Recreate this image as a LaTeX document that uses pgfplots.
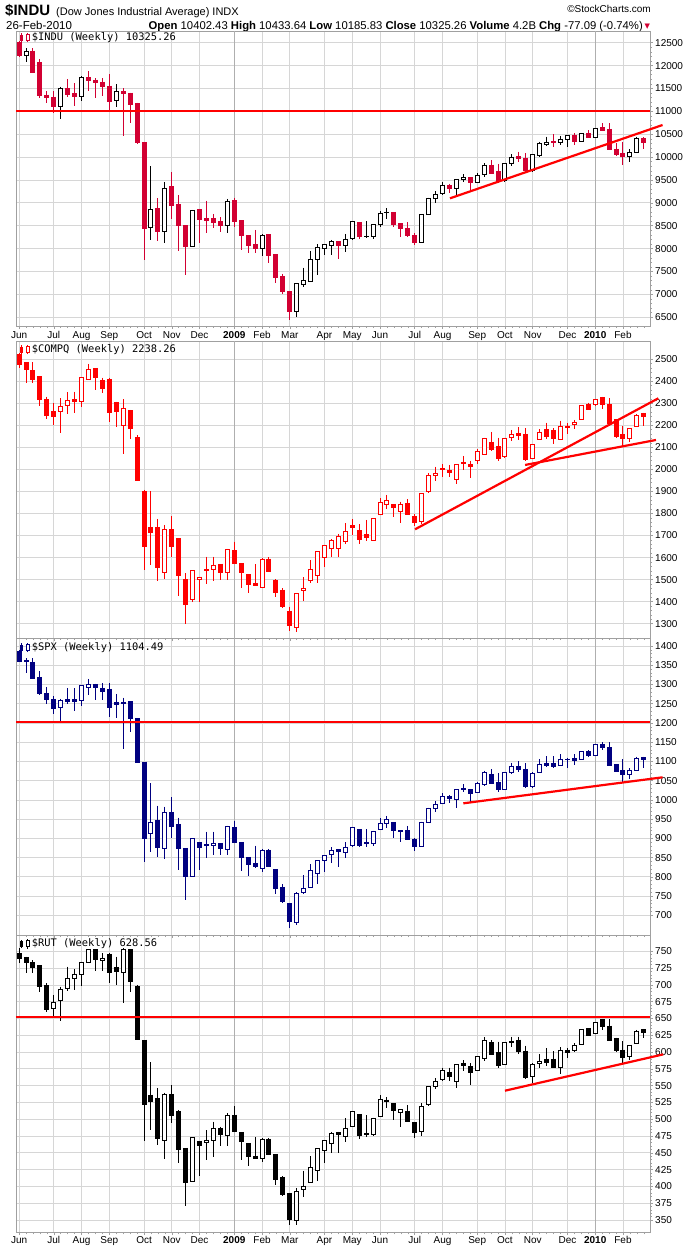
\documentclass[border=0pt]{standalone}
\usepackage{fontspec}
\setmainfont{Liberation Sans}
\newfontfamily\monofont{DejaVu Sans Mono}
\newfontfamily\dejavu{DejaVu Sans}
\usepackage{pgfplots}
\usepackage{pgfplotstable}
\pgfplotsset{compat=1.18}
\definecolor{indured}{RGB}{210,0,50}
\definecolor{navyc}{RGB}{0,0,128}
\definecolor{gridgray}{RGB}{214,214,214}
\definecolor{yeargray}{RGB}{175,175,175}
\definecolor{axisgray}{RGB}{160,160,160}

\pgfplotstableread{
x o h l c
0 12515 12530 12194 12223
1 12223 12376 12085 12310
2 12318 12376 11830 11845
3 12063 12136 11299 11342
4 11357 11444 11175 11299
5 11313 11444 10970 11102
6 11102 11540 10825 11503
7 11503 11700 11320 11364
8 11380 11613 11124 11320
9 11320 11772 11233 11743
10 11743 11881 11444 11670
11 11685 11721 11299 11627
12 11641 11721 11335 11539
13 11554 11816 11030 11211
14 11233 11597 11102 11437
15 11430 11503 10470 11393
16 11400 11408 10753 11146
17 11168 11190 10290 10316
18 10323 10330 7753 8430
19 8467 9806 8190 8852
20 8867 9100 8168 8372
21 8372 9457 8132 9318
22 9355 9675 8642 8940
23 8955 9173 7957 8503
24 8496 8500 7426 8045
25 8045 8850 8030 8838
26 8845 8850 8117 8627
27 8649 9049 8350 8612
28 8649 8760 8450 8569
29 8591 8685 8358 8503
30 8503 9086 8350 9035
31 9042 9115 8481 8583
32 8605 8605 7972 8285
33 8292 8292 7914 8059
34 8081 8409 7914 8001
35 8008 8321 7841 8292
36 8300 8300 7695 7848
37 7863 7863 7244 7368
38 7382 7448 7011 7062
39 7054 7054 6443 6625
40 6625 7240 6516 7229
41 7222 7586 7171 7295
42 7288 7950 7288 7768
43 7768 8096 7426 8030
44 8008 8096 7863 8096
45 8074 8190 7863 8147
46 8147 8147 7783 8067
47 8067 8321 7935 8205
48 8219 8600 8200 8591
49 8576 8576 8212 8263
50 8263 8598 8230 8270
51 8263 8532 8219 8518
52 8518 8824 8481 8773
53 8780 8882 8656 8795
54 8795 8795 8467 8518
55 8540 8540 8263 8430
56 8445 8576 8263 8285
57 8285 8336 8081 8139
58 8139 8751 8130 8751
59 8751 9115 8736 9100
60 9100 9253 9006 9173
61 9195 9450 9173 9391
62 9377 9413 9209 9304
63 9319 9515 9137 9515
64 9508 9625 9464 9559
65 9544 9544 9282 9442
66 9442 9647 9435 9603
67 9610 9865 9574 9828
68 9828 9937 9632 9646
69 9683 9850 9428 9464
70 9479 9865 9464 9865
71 9865 10068 9814 9996
72 10010 10119 9901 9974
73 9981 10083 9683 9705
74 9705 10061 9683 10047
75 10039 10338 10010 10287
76 10280 10447 10243 10323
77 10338 10505 10229 10316
78 10316 10462 10265 10389
79 10389 10476 10229 10476
80 10476 10520 10265 10345
81 10345 10520 10331 10520
82 10520 10592 10432 10432
83 10432 10629 10418 10629
84 10644 10738 10578 10592
85 10607 10738 10170 10170
86 10177 10301 10025 10047
87 10083 10338 9828 10010
88 10010 10170 9901 10097
89 10097 10447 10083 10410
90 10402.43 10433.64 10185.83 10325.26
}\indu

\pgfplotstableread{
x o h l c
0 2519.7 2527 2462 2477.3
1 2486.4 2486.4 2391.1 2454.6
2 2447 2486 2394 2409.2
3 2419.8 2424.4 2289.7 2315.4
4 2315.4 2330.6 2229.2 2244.3
5 2261 2300.3 2203.4 2239.8
6 2264 2323 2167 2286.7
7 2291.2 2350.2 2251.9 2312.4
8 2315.4 2353.3 2258 2307.9
9 2307.9 2418.3 2282.1 2418.3
10 2409.2 2478.8 2404.7 2454.6
11 2459.2 2459.2 2360.8 2416.8
12 2401.7 2416.8 2348.7 2366.9
13 2406.2 2416.8 2217 2257.9
14 2303.3 2307.9 2194.4 2262.5
15 2198.9 2318.5 2071.8 2277.6
16 2265.5 2270 2136.9 2185.3
17 2142.9 2155 1949 1949.2
18 1897.8 1906.9 1543.7 1649.6
19 1737.4 1902.3 1566.4 1713.2
20 1737.4 1775.2 1495.3 1554.3
21 1533.1 1748 1504.3 1725.3
22 1725.3 1788.8 1604.2 1649.6
23 1684.4 1684.4 1427.2 1518
24 1498.3 1528.6 1297 1387.8
25 1410.5 1539.2 1400 1539.2
26 1501.3 1511.9 1400 1511.9
27 1545.2 1604.2 1478.6 1540.7
28 1546.7 1604.2 1495.3 1564.9
29 1570.9 1570.9 1498.3 1533.1
30 1533.1 1639 1498.3 1634.5
31 1630 1672.3 1573.9 1573.9
32 1573.9 1573.9 1460.5 1533.1
33 1521 1521 1437.8 1478.6
34 1483.1 1570.9 1475 1475.4
35 1463.5 1596.7 1463.5 1593.6
36 1593.6 1601.2 1536 1536.1
37 1495.3 1501.3 1419.6 1440.8
38 1452.9 1460.5 1372.7 1377.2
39 1357.5 1377.2 1268 1294
40 1283.4 1437.8 1263.7 1434.8
41 1448.4 1510.4 1403 1460.5
42 1493.8 1589 1483.1 1546.7
43 1519.5 1625.4 1486.2 1625.4
44 1601.2 1657.2 1558.8 1654.2
45 1642 1682.9 1601.2 1675.3
46 1642 1707.1 1601.2 1695
47 1672.3 1755.5 1661.7 1717.7
48 1743.5 1773.7 1702.6 1735.9
49 1720.7 1751 1661.7 1682.9
50 1702.6 1770.7 1676.8 1692
51 1678.4 1778.2 1678.4 1778.2
52 1796.4 1869 1796.4 1849.4
53 1838.8 1884.2 1819.1 1858.4
54 1841.8 1841.8 1785.8 1826.7
55 1808.5 1853.9 1755.5 1841.8
56 1846.3 1864.5 1796.4 1796.4
57 1785.8 1797.9 1745 1758.6
58 1763.1 1891.7 1752.5 1888.7
59 1899.3 1982.5 1891.7 1970.4
60 1970.4 2012.8 1949.2 1982.5
61 2000.7 2024.9 1967.4 2003.7
62 1993.1 2020.4 1964.4 1985.5
63 1952.3 2023.4 1932.6 2023.4
64 2032.5 2061.2 1997.7 2027.9
65 2020.4 2040 1959.8 2012.8
66 2040 2091.5 2024.9 2080.9
67 2068.8 2144.4 2065.8 2138.4
68 2123.2 2170.2 2085.4 2091.5
69 2103.6 2144.4 2040 2050.6
70 2058.2 2144.4 2050.6 2141.4
71 2145.9 2179.2 2130.8 2159.6
72 2164.1 2191.3 2133.8 2153.5
73 2159.6 2186.8 2040 2046
74 2050.6 2114.2 2046 2114.2
75 2133.8 2182.3 2133.8 2168.7
76 2179.2 2212.5 2138.4 2149
77 2174.7 2186.8 2115.7 2138.4
78 2136.9 2221.6 2133.8 2194.4
79 2189.8 2209.5 2159.6 2192.9
80 2204.9 2224.6 2182.3 2214
81 2227.6 2288.2 2224.6 2288.2
82 2292.7 2303.3 2273 2273
83 2295.7 2318.5 2288.2 2318.5
84 2327.5 2330.6 2273 2292.7
85 2292.7 2323 2198.9 2209.5
86 2224.6 2227.6 2141.4 2149
87 2159.6 2197.4 2103.6 2138.4
88 2141.4 2186.8 2126.3 2186.8
89 2194.4 2251.9 2191.3 2244.3
90 2254.9 2257.9 2198.9 2238.26
}\compq

\pgfplotstableread{
x o h l c
0 1387 1389.6 1357.6 1359.3
1 1361.9 1368 1330.7 1361
2 1357.6 1368 1313.4 1315.1
3 1318.6 1335 1272.7 1276.1
4 1277 1292.6 1248.4 1261.4
5 1261.4 1270.1 1223.3 1238
6 1240.6 1262.3 1199 1258.8
7 1261.4 1290 1248.4 1255.3
8 1259.7 1290 1231.1 1255.3
9 1257.9 1298.7 1244.1 1296.1
10 1291.7 1314.3 1272.7 1298.7
11 1298.7 1302.1 1259.7 1291.7
12 1290 1303 1259.7 1281.3
13 1287.4 1303 1216.4 1239.7
14 1251.9 1275.3 1212 1247.5
15 1253.6 1265.7 1132.3 1251
16 1254.5 1254.5 1177.4 1210.3
17 1210.3 1212 1096 1096.8
18 1098.5 1098.5 839.5 900.2
19 913.2 1043.1 865.5 941.7
20 945.2 985 852.5 875.9
21 874.2 982.5 845.6 967.7
22 967.7 1006.7 900.2 930.5
23 936.5 953.9 817.9 874.2
24 874.2 874.2 739.9 800.5
25 800.5 898.4 800 898.4
26 889.8 889.8 817.9 876.8
27 882.8 917.5 849.9 880.2
28 881.1 917.5 856.8 887.2
29 887.2 887.2 856.8 874.2
30 871.6 933.1 856.8 930.5
31 928.8 945.2 889.8 889.8
32 889.8 889.8 816.1 849.9
33 850.8 850.8 803.1 830.9
34 833.4 881.1 822.2 826.6
35 822.2 872.4 813.5 869
36 869 871.6 826 826.6
37 819.6 819.6 754.6 770.2
38 772.8 780.6 733 735.6
39 731.2 731.2 666.2 683.6
40 681.9 759.8 674.9 757.2
41 759.8 804.8 754.6 770.2
42 772.8 832.6 772 816.1
43 809.2 842.1 780.6 842.1
44 841.2 855.9 813.5 855.9
45 856.8 876.8 835.2 868.1
46 869.8 869.8 826.6 865.5
47 863.8 889.8 848.2 876.8
48 880.2 930.5 878.5 928.8
49 923.5 923.5 878.5 881.1
50 886.3 923.5 878.5 888.1
51 887.2 920.1 881.1 917.5
52 923.5 952.2 923 939.1
53 939.1 958.2 926.1 947.8
54 941.7 941.7 901.9 920.1
55 919.2 920.4 889.8 916.6
56 920.1 932.2 897 897.6
57 895.8 900.2 868.1 878.5
58 878.5 943.5 876.8 941.7
59 941.7 979.8 941 978.1
60 978.1 997.2 967.7 988.5
61 991.1 1017.1 991 1008.4
62 1008.4 1012.8 991.1 1004.1
63 999.8 1027.5 978.1 1025.8
64 1030.1 1040.5 1021.4 1026.7
65 1025.8 1028.4 995.4 1017.1
66 1019.7 1047.4 1019 1043.1
67 1040.5 1076 1036.2 1070.8
68 1066.5 1079.5 1041 1041.9
69 1045.7 1069.1 1021.4 1025.8
70 1027.5 1073.4 1025.8 1071.7
71 1071.7 1096.8 1066.5 1088.1
72 1086.4 1101.1 1073.4 1078.6
73 1079.5 1095.1 1031.8 1034.4
74 1034.4 1071.7 1031.8 1069.1
75 1071.7 1105.5 1071 1092.5
76 1095.1 1114.1 1086.4 1089
77 1095.1 1114.1 1083.8 1086.4
78 1089 1119.3 1089 1105.5
79 1104.6 1109.8 1083.8 1106.3
80 1108.1 1118.5 1090.7 1102
81 1105.5 1125.4 1105 1125.4
82 1125.4 1129.7 1112.4 1115
83 1115 1144.5 1115 1144.5
84 1144.5 1149.7 1129.7 1135.8
85 1135.8 1149.7 1090 1090.7
86 1092.5 1093 1071.7 1073.4
87 1075.2 1106.3 1045.7 1064.8
88 1066.5 1082.1 1054.4 1075.2
89 1077.7 1112.4 1077 1108.1
90 1109.8 1112.4 1083.8 1104.49
}\spx

\pgfplotstableread{
x o h l c
0 747 754.5 732.1 738.6
1 741.1 742 717.2 733.1
2 733.6 737.1 718.2 725.7
3 728.2 729.6 690 697.4
4 698.4 702.4 659.2 664.1
5 665.1 685 653.7 674.1
6 676.5 697.4 646.7 693.4
7 694.9 727.2 691.4 709.8
8 709.8 723.2 692.4 715.8
9 715.8 734.6 698.9 733.6
10 733.6 753 732.1 753
11 753 753 721.2 738.1
12 736.6 747 721.2 739.6
13 745.5 747 703.3 718.2
14 726.2 742.1 699.9 719.7
15 718.7 754.5 672.6 753
16 752 752 690 704.8
17 697.4 699.9 619 619
18 618 618 468.1 522.2
19 536.1 584.7 484 526.2
20 531.1 546 461.6 471.6
21 468.1 539.6 440.8 537.1
22 537.1 551 493.9 505.3
23 511.3 513.8 434.4 455.7
24 456.7 456.7 370.8 405.6
25 407.1 473.1 407 473.1
26 467.6 467.6 415.5 460.6
27 465.6 484 439.3 469.1
28 468.1 496.4 444.3 486.5
29 486.5 489 460.1 477.5
30 476.5 508.8 460.1 505.3
31 506.3 519.7 481 481.5
32 480.5 480.5 439.3 466.6
33 464.1 464.1 430.9 444.3
34 445.3 473.1 441.8 442.3
35 441.8 471.6 435.8 470.1
36 470.1 471.6 447 447.7
37 447.7 447.7 402.1 410.5
38 413.5 415.5 386.2 388.7
39 389.7 389.7 342.5 351
40 350 397.1 342.5 392.2
41 395.6 423.4 383.7 400.6
42 406.1 445.3 406 428.4
43 424.4 456.7 408.5 456.7
44 454.2 468.1 434.4 468.1
45 464.1 481.5 450.2 479
46 480 481.5 449.2 478
47 474.1 501.3 465.6 486.5
48 489.9 511.5 488.9 511.3
49 507.3 507.3 470.1 475.5
50 479 506.3 474.1 477.5
51 477.5 502.3 475.5 501.3
52 504.8 536.1 504 529.6
53 528.6 532.6 516.2 526.2
54 523.7 523.7 498.9 512.8
55 510.3 514.7 488.9 513.8
56 512.3 521.2 496 496.4
57 495.4 495.4 472.6 480.5
58 481.5 523.7 475.5 518.7
59 522.7 549.5 519.7 548.5
60 548.5 560.9 544.5 555.9
61 559.9 576.8 557.4 572.3
62 569.8 576.8 557.4 563.4
63 556 581.3 546 581.3
64 583.2 588.2 572.3 579.7
65 578.3 583.2 551 569.3
66 572.3 593.2 572 593.2
67 590.7 622 586.7 617
68 614.5 618 595.7 597.1
69 599.6 615.5 575.8 579.8
70 581.8 615 581 614.5
71 615 622.9 608 616
72 618 622.9 597.1 600.6
73 601.6 609.5 559.4 562.4
74 563.4 583.2 553.5 580.8
75 583.2 596.6 576.8 585.7
76 589.7 605.6 579.3 584.7
77 589.7 601.6 577 577.3
78 577.3 607.1 567.3 602.1
79 603.1 605.6 591.7 599.6
80 602.1 613 600.6 609.5
81 611.5 634 611 633.9
82 635.4 635.6 624 624.4
83 627.9 644.3 626.9 644.3
84 647.8 649.3 632.9 637.8
85 638.8 648.8 617 617
86 619.5 621.5 600.6 602.1
87 603.1 616.5 580.8 592.2
88 593.2 610.5 588.2 610.5
89 613 632.9 611.5 631.4
90 632.9 634.4 620.5 628.56
}\rut

% #1 table, #2 colour of up (hollow) candles, #3 colour of down (filled) candles, #4 one pixel in data units
\newcommand\candles[4]{%
 \addplot[draw=none, mark=none, error bars/.cd, y dir=minus, y explicit, error mark=none,
   error bar style={draw=#3, line width=1pt}]
   table[x=x, y=h, y error minus expr={(\thisrow{o}>\thisrow{c}) ? (\thisrow{h}-\thisrow{l}) : 0}] {#1};
 \addplot[draw=none, mark=none, error bars/.cd, y dir=minus, y explicit, error mark=none,
   error bar style={draw=#2, line width=1pt}]
   table[x=x, y=h, y error minus expr={(\thisrow{o}>\thisrow{c}) ? 0 : (\thisrow{h}-\thisrow{l})}] {#1};
 \addplot[draw=none, mark=none, error bars/.cd, y dir=minus, y explicit, error mark=none,
   error bar style={draw=#3, line width=5pt}]
   table[x=x, y expr=\thisrow{o}+0.5*#4, y error minus expr={max(\thisrow{o}-\thisrow{c},-#4)+#4}] {#1};
 \addplot[draw=none, mark=none, error bars/.cd, y dir=minus, y explicit, error mark=none,
   error bar style={draw=#2, line width=5pt}]
   table[x=x, y expr=\thisrow{c}+0.5*#4, y error minus expr={max(\thisrow{c}-\thisrow{o},-#4)+#4}] {#1};
 \addplot[draw=none, mark=none, error bars/.cd, y dir=minus, y explicit, error mark=none,
   error bar style={draw=white, line width=3pt}]
   table[x=x, y expr=\thisrow{c}-0.5*#4, y error minus expr={max(\thisrow{c}-\thisrow{o}-#4,0)}] {#1};
}

\pgfplotsset{
 panel/.style={
  scale only axis, width=634pt,
  xmin=-0.447, xmax=90.894,
  clip=false,
  axis line style={draw=axisgray, line width=0.8pt},
  xtick={0,5,9,13,18,22,26,31,35,39,44,48,52,57,61,66,70,74,79,83,87},
  minor xtick={0,...,90},
  xmajorgrids, ymajorgrids,
  major grid style={draw=gridgray, line width=0.8pt},
  extra x ticks={31,83},
  extra x tick labels={},
  extra x tick style={major grid style={draw=yeargray, line width=0.8pt}},
  xtick pos=left,
  ytick pos=right,
  yticklabel pos=right,
  tick align=outside,
  major tick length=3pt, minor tick length=2pt,
  tick style={draw=axisgray, line width=0.6pt},
  minor y tick num=4,
  scaled y ticks=false,
  yticklabel style={font=\fontsize{10}{12}\selectfont, anchor=west, inner sep=0pt, xshift=2pt},
  xticklabel style={font=\fontsize{10}{12}\selectfont, anchor=base, inner sep=0pt},
  /pgf/number format/1000 sep={},
  /pgf/number format/assume math mode=true,
  yticklabel={\pgfmathprintnumber[fixed,precision=0]{\tick}},
 },
 months/.style={xticklabels={Jun,Jul,Aug,Sep,Oct,Nov,Dec,\textbf{2009},Feb,Mar,Apr,May,Jun,Jul,Aug,Sep,Oct,Nov,Dec,\textbf{2010},Feb}},
 nomonths/.style={xticklabels={}},
}

\newcommand\icon[3]{% x, baseline y, colour
 \fill[#3] (#1+0.5pt,#2-0.5pt) rectangle (#1+3.5pt,#2+5.5pt);
 \draw[#3, line width=0.8pt] (#1+2pt,#2-1.5pt) -- (#1+2pt,#2+7pt);
 \draw[#3, line width=0.8pt] (#1+8.5pt,#2-2pt) -- (#1+8.5pt,#2+7.5pt);
 \filldraw[draw=#3, fill=white, line width=0.8pt] (#1+7pt,#2) rectangle (#1+10pt,#2+6pt);
}

\begin{document}
\begin{tikzpicture}
\path[use as bounding box] (0pt,0pt) rectangle (700pt,-1248pt);

% header
\node[anchor=base west, inner sep=0pt] at (5pt,-15.5pt) {\fontsize{15}{18}\selectfont\bfseries \$INDU};
\node[anchor=base west, inner sep=0pt] at (56pt,-15.5pt) {\fontsize{11}{13}\selectfont (Dow Jones Industrial Average) INDX};
\node[anchor=base east, inner sep=0pt] at (651pt,-12.5pt) {\fontsize{10}{12}\selectfont \textcopyright StockCharts.com};
\node[anchor=base west, inner sep=0pt] at (6pt,-29pt) {\fontsize{11.5}{13}\selectfont 26-Feb-2010};
\node[anchor=base east, inner sep=0pt] at (643pt,-29pt) {\fontsize{11.3}{13}\selectfont \textbf{Open} 10402.43 \textbf{High} 10433.64 \textbf{Low} 10185.83 \textbf{Close} 10325.26 \textbf{Volume} 4.2B \textbf{Chg} -77.09 (-0.74\%)};
\node[anchor=base west, inner sep=0pt, text=indured] at (644.5pt,-28pt) {\dejavu\fontsize{7}{8}\selectfont ▼};

% panel 1
\begin{axis}[panel, months, at={(16pt,-31pt)}, anchor=north west, height=295pt,
  ymin=6310, ymax=12756, ytick={6500,7000,...,12500},
  xticklabel style={yshift=-9pt}]
 \candles{\indu}{black}{indured}{21.85}
 \addplot[red, line width=2.2pt] coordinates {(-0.447,11000) (90.894,11000)};
 \addplot[red, line width=2.2pt] coordinates {(62.08,9100) (92.7,10702)};
\end{axis}

% panel 2
\begin{axis}[panel, nomonths, at={(16pt,-341pt)}, anchor=north west, height=297pt,
  ymin=1235, ymax=2583, ytick={1300,1400,...,2500}]
 \candles{\compq}{red}{red}{4.54}
 \addplot[red, line width=2.2pt] coordinates {(57.04,1728.3) (92.09,2323)};
 \addplot[red, line width=2.2pt] coordinates {(72.9,2020.4) (91.76,2133.8)};
\end{axis}

% panel 3
\begin{axis}[panel, nomonths, at={(16pt,-638pt)}, anchor=north west, height=297pt,
  ymin=648.8, ymax=1420.8, ytick={700,750,...,1400}]
 \candles{\spx}{navyc}{navyc}{2.6}
 \addplot[red, line width=2.2pt] coordinates {(-0.447,1202) (90.894,1202)};
 \addplot[red, line width=2.2pt] coordinates {(64.0,991.1) (92.7,1058.7)};
\end{axis}

% panel 4
\begin{axis}[panel, months, at={(16pt,-935pt)}, anchor=north west, height=297.3pt,
  ymin=331.7, ymax=774.3, ytick={350,375,...,750},
  xticklabel style={yshift=-8.5pt}]
 \candles{\rut}{black}{black}{1.489}
 \addplot[red, line width=2.2pt] coordinates {(-0.447,652) (90.894,652)};
 \addplot[red, line width=2.2pt] coordinates {(70.0,542.5) (92.8,596.6)};
\end{axis}

% panel titles
\icon{19pt}{-40pt}{indured}
\node[anchor=base west, inner sep=0pt] at (31.7pt,-40pt) {\monofont\fontsize{10.4}{12}\selectfont \$INDU (Weekly) 10325.26};
\icon{19pt}{-352pt}{red}
\node[anchor=base west, inner sep=0pt] at (31.7pt,-352pt) {\monofont\fontsize{10.4}{12}\selectfont \$COMPQ (Weekly) 2238.26};
\icon{19pt}{-650pt}{navyc}
\node[anchor=base west, inner sep=0pt] at (31.7pt,-650pt) {\monofont\fontsize{10.4}{12}\selectfont \$SPX (Weekly) 1104.49};
\icon{19pt}{-946.7pt}{black}
\node[anchor=base west, inner sep=0pt] at (31.7pt,-946.7pt) {\monofont\fontsize{10.4}{12}\selectfont \$RUT (Weekly) 628.56};
\end{tikzpicture}
\end{document}
